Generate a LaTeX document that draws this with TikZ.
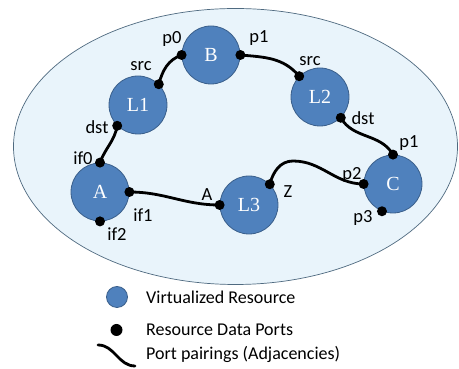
\documentclass[tikz,border=0pt]{standalone}
\usepackage{fontspec}
\setmainfont{Carlito}
\newfontfamily\resfont{Liberation Serif}
\definecolor{resfill}{HTML}{4F81BD}
\definecolor{resedge}{HTML}{3A5F8B}
\definecolor{domfill}{HTML}{E9F4FB}
\definecolor{domedge}{HTML}{4F6A80}
\begin{document}
\begin{tikzpicture}[x=1pt,y=1pt,
  res/.style={circle,draw=resedge,line width=0.8pt,fill=resfill,minimum size=58pt,
    inner sep=0pt,text=white,font=\resfont\fontsize{20}{20}\selectfont},
  port/.style={circle,fill=black,minimum size=10pt,inner sep=0pt},
  link/.style={line width=2.8pt,black,line cap=round},
  lbl/.style={inner sep=0pt,font=\fontsize{18.5}{18.5}\selectfont},
  legtext/.style={anchor=west,inner sep=0pt,font=\fontsize{18}{18}\selectfont}]
\useasboundingbox (0,0) rectangle (459,369);
\fill[white] (0,0) rectangle (459,369);

% resource domain
\draw[domedge,fill=domfill,line width=0.7pt] (235.5,222.5) ellipse [x radius=222, y radius=138];

% virtualized resources
\node[res] (B)  at (211,314) {B};
\node[res] (L1) at (138,264) {L1};
\node[res] (A)  at (100,177) {A};
\node[res] (L2) at (320,272) {L2};
\node[res] (C)  at (393,185) {C};
\node[res] (L3) at (249,164) {L3};

% data ports
\coordinate (B-p0)  at (B.180);
\coordinate (B-p1)  at (B.0);
\coordinate (L1-src) at (L1.45);
\coordinate (L1-dst) at (L1.225);
\coordinate (A-if0) at (A.90);
\coordinate (A-if1) at (A.0);
\coordinate (A-if2) at (A.270);
\coordinate (L3-A)  at (L3.180);
\coordinate (L3-Z)  at (L3.45);
\coordinate (L2-src) at (L2.135);
\coordinate (L2-dst) at (L2.-45);
\coordinate (C-p1)  at (C.90);
\coordinate (C-p2)  at (C.180);
\coordinate (C-p3)  at (C.-112);
\coordinate (hump)  at (293,208);

% port pairings
\draw[link] (B-p0) to[out=200,in=75] (L1-src);
\draw[link] (B-p1) to[out=-5,in=130] (L2-src);
\draw[link] (L1-dst) to[out=-100,in=70] (A-if0);
\draw[link] (A-if1) to[out=0,in=180] (L3-A);
\draw[link] (L2-dst) to[out=-60,in=120] (C-p1);
\draw[link] (L3-Z) to[out=75,in=180] (hump) to[out=0,in=180] (C-p2);

\foreach \p in {B-p0,B-p1,L1-src,L1-dst,A-if0,A-if1,A-if2,L3-A,L3-Z,L2-src,L2-dst,C-p1,C-p2,C-p3}
  \node[port] at (\p) {};

% port names
\node[lbl] (lp0)   at (172,330) {p0};
\node[lbl] (lp1b)  at (259,331) {p1};
\node[lbl] (lsrc1) at (141,303) {src};
\node[lbl] (ldst1) at (97,242) {dst};
\node[lbl] (lif0)  at (83,211) {if0};
\node[lbl] (lif1)  at (143,154) {if1};
\node[lbl] (lif2)  at (117,135) {if2};
\node[lbl] (lA)    at (207,174) {A};
\node[lbl] (lsrc2) at (310,308) {src};
\node[lbl] (ldst2) at (363,251) {dst};
\node[lbl] (lp1c)  at (409,226) {p1};
\node[lbl] (lp2)   at (352,194) {p2};
\node[lbl] (lZ)    at (288,177) {Z};
\node[lbl] (lp3)   at (363,151) {p3};

% legend
\node[circle,draw=resedge,line width=0.8pt,fill=resfill,minimum size=21pt,inner sep=0pt] (keyres) at (117,72) {};
\node[circle,fill=black,minimum size=12pt,inner sep=0pt] (keyport) at (116.5,39) {};
\coordinate (keyA) at (98,24);
\coordinate (keyB) at (135,3);
\draw[link] (keyA) to[out=0,in=180] (keyB);
\node[legtext] (t1) at (146,72) {Virtualized Resource};
\node[legtext] (t2) at (146,39) {Resource Data Ports};
\node[legtext] (t3) at (146,15) {Port pairings (Adjacencies)};
\end{tikzpicture}
\end{document}
